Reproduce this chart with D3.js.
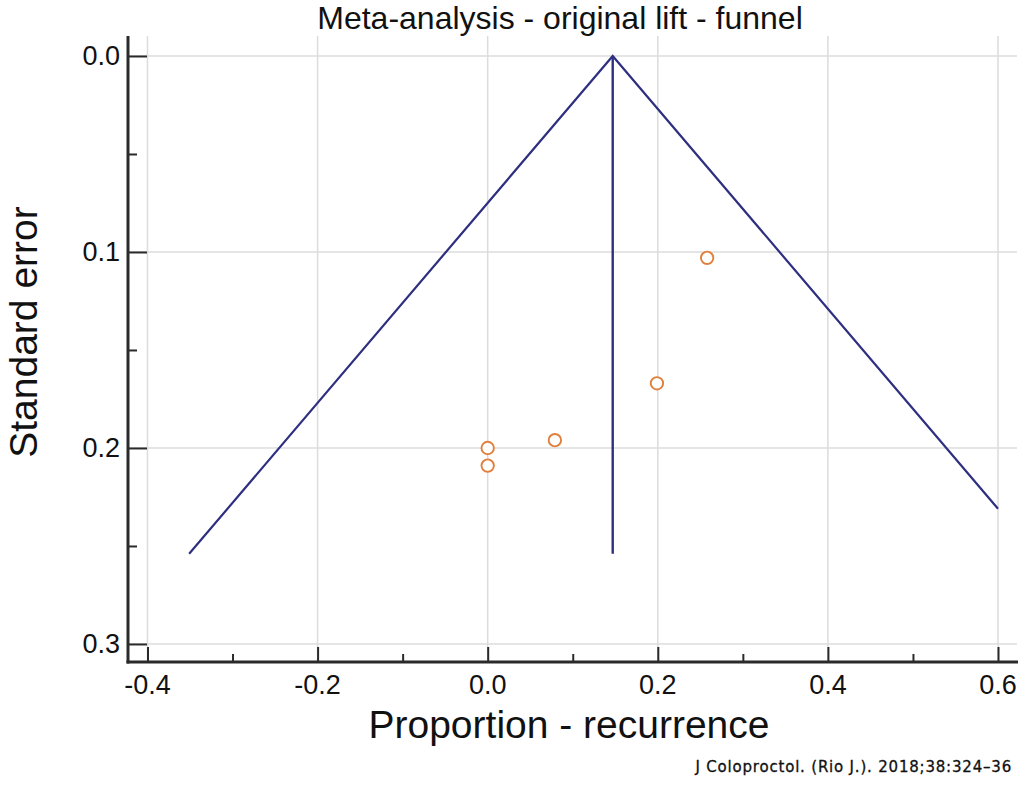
<!DOCTYPE html>
<html>
<head>
<meta charset="utf-8">
<script src="https://cdn.jsdelivr.net/npm/d3@7"></script>
<style>
  html, body { margin: 0; padding: 0; background: #fff; }
  svg { display: block; }
</style>
</head>
<body>
<svg id="chart" width="1024" height="788"></svg>
<script>
// ---- data ----
const studyEffect = [0.258, 0.199, 0.079, 0.0, 0.0];
const studySE     = [0.103, 0.167, 0.196, 0.200, 0.209];
const pooledEffect = 0.147;
const funnelX = [-0.351, 0.147, 0.6];
const funnelY = [0.254, 0.0, 0.231];
const pooledLineSE = [0.0, 0.254];
const xTicks = [-0.4, -0.2, 0.0, 0.2, 0.4, 0.6];
const xMinorTicks = [-0.3, -0.1, 0.1, 0.3, 0.5];
const yTicks = [0.0, 0.1, 0.2, 0.3];
const yMinorTicks = [0.05, 0.15, 0.25];
const titleText = "Meta-analysis - original lift - funnel";
const xLabel = "Proportion - recurrence";
const yLabel = "Standard error";
const sourceText = "J Coloproctol. (Rio J.). 2018;38:324\u201336";

// ---- layout ----
const svg = d3.select("#chart");
const mLeft = 128, mRight = 1018, mTop = 36, mBottom = 662;
const x = d3.scaleLinear().domain([-0.4229, 0.6235]).range([mLeft, mRight]);
const y = d3.scaleLinear().domain([-0.0102, 0.3092]).range([mTop, mBottom]);
const font = "'Liberation Sans', Arial, Helvetica, sans-serif";
const navy = "#2e2f80";
const orange = "#e0803c";

// gridlines
svg.append("g").selectAll("line").data(xTicks).join("line")
  .attr("x1", d => x(d)).attr("x2", d => x(d))
  .attr("y1", mTop).attr("y2", mBottom)
  .attr("stroke", "#dcdcdc").attr("stroke-width", 1.5);
svg.append("g").selectAll("line").data(yTicks).join("line")
  .attr("x1", mLeft).attr("x2", mRight - 1)
  .attr("y1", d => y(d)).attr("y2", d => y(d))
  .attr("stroke", "#dcdcdc").attr("stroke-width", 1.5);

// axes via d3 axis generators, ticks pointing inward
const xAxis = d3.axisTop(x).tickValues(xTicks).tickSize(15).tickFormat("");
const xAxisMinor = d3.axisTop(x).tickValues(xMinorTicks).tickSize(8).tickFormat("");
const yAxis = d3.axisRight(y).tickValues(yTicks).tickSize(19).tickFormat("");
const yAxisMinor = d3.axisRight(y).tickValues(yMinorTicks).tickSize(9).tickFormat("");

function styleAxis(g) {
  g.select(".domain").remove();
  g.selectAll(".tick line").attr("stroke", "#2a2a2a").attr("stroke-width", 2);
}
svg.append("g").attr("transform", `translate(0,${mBottom})`).call(xAxis).call(styleAxis);
svg.append("g").attr("transform", `translate(0,${mBottom})`).call(xAxisMinor).call(styleAxis);
svg.append("g").attr("transform", `translate(${mLeft},0)`).call(yAxis).call(styleAxis);
svg.append("g").attr("transform", `translate(${mLeft},0)`).call(yAxisMinor).call(styleAxis);

// axis lines
svg.append("line").attr("x1", mLeft).attr("x2", mLeft).attr("y1", mTop).attr("y2", mBottom + 1.5)
  .attr("stroke", "#2a2a2a").attr("stroke-width", 3);
svg.append("line").attr("x1", mLeft - 1.5).attr("x2", mRight).attr("y1", mBottom).attr("y2", mBottom)
  .attr("stroke", "#2a2a2a").attr("stroke-width", 3);

// tick labels
svg.append("g").selectAll("text").data(xTicks).join("text")
  .attr("x", d => x(d)).attr("y", 694)
  .attr("text-anchor", "middle")
  .attr("font-family", font).attr("font-size", 27).attr("fill", "#111")
  .text(d => d3.format(".1f")(d).replace("\u2212", "-"));
svg.append("g").selectAll("text").data(yTicks).join("text")
  .attr("x", 120).attr("y", d => y(d) + 9)
  .attr("text-anchor", "end")
  .attr("font-family", font).attr("font-size", 27).attr("fill", "#111")
  .text(d => d3.format(".1f")(d));

// funnel
const line = d3.line().x(d => x(d[0])).y(d => y(d[1]));
svg.append("path")
  .datum(funnelX.map((v, i) => [v, funnelY[i]]))
  .attr("d", line).attr("fill", "none")
  .attr("stroke", navy).attr("stroke-width", 2.2).attr("stroke-linejoin", "miter");
svg.append("path")
  .datum(pooledLineSE.map(s => [pooledEffect, s]))
  .attr("d", line).attr("fill", "none")
  .attr("stroke", navy).attr("stroke-width", 2.4);

// study points
svg.append("g").selectAll("circle").data(studyEffect.map((v, i) => [v, studySE[i]])).join("circle")
  .attr("cx", d => x(d[0])).attr("cy", d => y(d[1])).attr("r", 6.2)
  .attr("fill", "#fff").attr("stroke", orange).attr("stroke-width", 1.9);

// titles
svg.append("text").attr("x", 560).attr("y", 29).attr("text-anchor", "middle")
  .attr("font-family", font).attr("font-size", 32).attr("fill", "#111").text(titleText);
svg.append("text").attr("x", 569).attr("y", 738).attr("text-anchor", "middle")
  .attr("font-family", font).attr("font-size", 39).attr("fill", "#111").text(xLabel);
svg.append("text").attr("transform", "translate(37,332) rotate(-90)").attr("text-anchor", "middle")
  .attr("font-family", font).attr("font-size", 39).attr("fill", "#111").text(yLabel);
svg.append("text").attr("x", 1012).attr("y", 772).attr("text-anchor", "end")
  .attr("font-family", "'DejaVu Sans', Verdana, sans-serif").attr("font-size", 15)
  .attr("letter-spacing", 0.8).attr("stroke", "#111").attr("stroke-width", 0.3)
  .attr("fill", "#111").text(sourceText);
</script>
</body>
</html>
